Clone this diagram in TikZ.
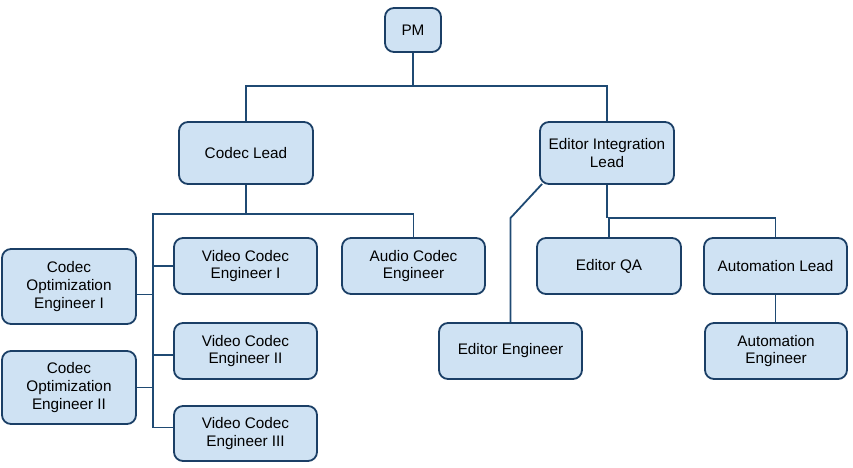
\documentclass[tikz,border=0pt]{standalone}
\usepackage{fontspec}
\setmainfont{Liberation Sans}
\definecolor{boxfill}{HTML}{CFE2F3}
\definecolor{boxline}{HTML}{1B3F66}
\definecolor{conn}{HTML}{1F4A73}
\begin{document}
\begin{tikzpicture}[x=1pt,y=-1pt,
  box/.style={draw=boxline,fill=boxfill,line width=1.8pt,rounded corners=9pt,
    align=center,inner sep=2pt,font=\fontsize{15.3}{17.8}\selectfont,
    minimum width=143pt,minimum height=56pt},
  link/.style={draw=conn,line width=1.8pt}]
\useasboundingbox (0,0) rectangle (853,467);
\node[box,minimum width=56pt,minimum height=44pt] (PM) at (413,30) {PM};
\node[box,minimum width=134pt,minimum height=62pt] (CL) at (246,153) {Codec Lead};
\node[box,minimum width=134pt,minimum height=62pt] (EIL) at (607,153) {Editor Integration\\Lead};
\node[box] (VC1) at (245.5,266) {Video Codec\\Engineer I};
\node[box] (VC2) at (245.5,351) {Video Codec\\Engineer II};
\node[box,minimum height=55pt] (VC3) at (245.5,433.5) {Video Codec\\Engineer III};
\node[box,minimum width=134pt,minimum height=75pt] (COE1) at (69,286.5) {Codec\\Optimization\\Engineer I};
\node[box,minimum width=134pt,minimum height=73pt] (COE2) at (69,387.5) {Codec\\Optimization\\Engineer II};
\node[box] (ACE) at (413.5,266) {Audio Codec\\Engineer};
\node[box,minimum width=144pt] (EQA) at (609,266) {Editor QA};
\node[box] (AL) at (775.5,266) {Automation Lead};
\node[box] (EE) at (510.5,351) {Editor Engineer};
\node[box,minimum width=142pt] (AE) at (776,351) {Automation\\Engineer};
\coordinate (b1) at (413,86);
\coordinate (b2) at (153,214);
\coordinate (b3) at (607,218);
\coordinate (k) at (510.5,218);
\coordinate (vc3in) at ([yshift=6pt]VC3.west);
\coordinate (vc2in) at ([yshift=-4pt]VC2.west);
\coordinate (coe1out) at ([yshift=-8pt]COE1.east);
\coordinate (eilout) at ([xshift=3pt,yshift=1pt]EIL.south west);
% PM level
\draw[link] (PM.south) -- (b1);
\draw[link] (CL.north) |- (EIL.north |- b1) -- (EIL.north);
% Codec lead level
\draw[link] (CL.south) -- (CL.south |- b2);
\draw[link] (ACE.north) |- (b2) -- (b2 |- vc3in) -- (vc3in);
\draw[link] (VC1.west) -- (VC1.west -| b2);
\draw[link] (vc2in) -- (vc2in -| b2);
\draw[link] (coe1out) -- (coe1out -| b2);
\draw[link] (COE2.east) -- (COE2.east -| b2);
% Editor integration level
\draw[link] (EIL.south) -- (b3);
\draw[link] (EQA.north) |- (AL.north |- b3) -- (AL.north);
\draw[link] (eilout) -- (k) -- (EE.north);
\draw[link] (AL.south) -- (AL.south |- AE.north);
\end{tikzpicture}
\end{document}
